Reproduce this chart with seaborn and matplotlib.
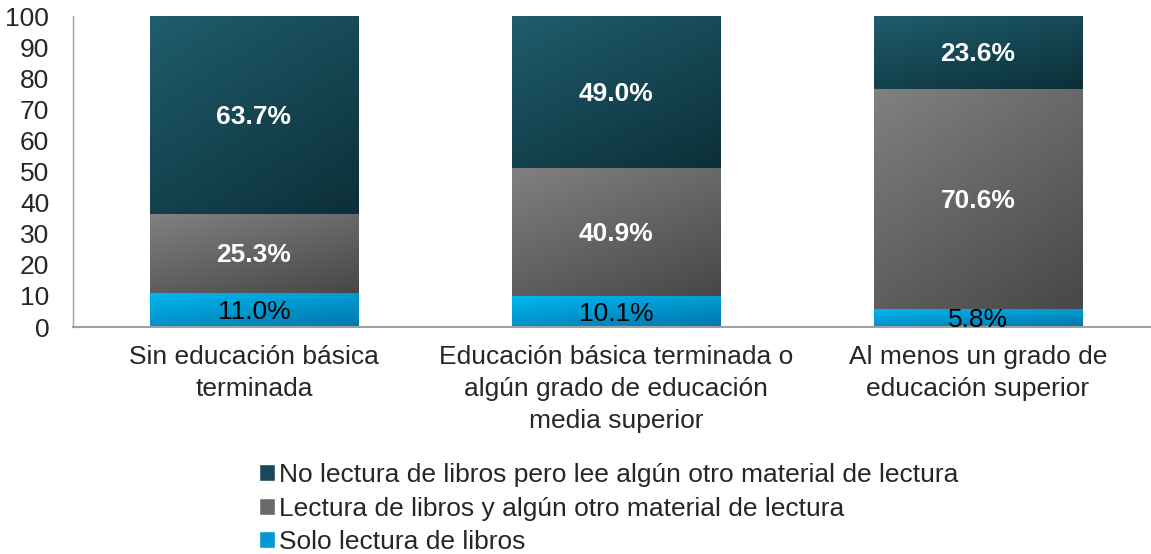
import numpy as np
import pandas as pd
import matplotlib
matplotlib.use("Agg")
import matplotlib.pyplot as plt
from matplotlib.colors import LinearSegmentedColormap
from matplotlib.patches import Patch
import seaborn as sns

categories = ["Sin educación básica\nterminada",
              "Educación básica terminada o\nalgún grado de educación\nmedia superior",
              "Al menos un grado de\neducación superior"]
solo_libros = [11.0, 10.1, 5.8]
libros_y_otro = [25.3, 40.9, 70.6]
no_libros = [63.7, 49.0, 23.6]
series_names = ["No lectura de libros pero lee algún otro material de lectura",
                "Lectura de libros y algún otro material de lectura",
                "Solo lectura de libros"]
yticks = [0, 10, 20, 30, 40, 50, 60, 70, 80, 90, 100]

sns.set_theme(style="white")
plt.rcParams['font.family'] = ['Liberation Sans', 'DejaVu Sans']

fig = plt.figure(figsize=(11.51, 5.54), dpi=100)
ax = fig.add_axes([0.0634, 0.4097, 1 - 0.0634, 0.5614])

df = pd.DataFrame({"cat": categories,
                   "solo": solo_libros,
                   "ambos": libros_y_otro,
                   "no": no_libros})
df["c1"] = df["solo"]
df["c2"] = df["solo"] + df["ambos"]
df["c3"] = df["c2"] + df["no"]

grads = {
    "no": ("#1f5d6d", "#0c2f38"),
    "ambos": ("#808080", "#474747"),
    "solo": ("#00b8f2", "#0076aa"),
}
solid = {"no": "#17495a", "ambos": "#6a6a6a", "solo": "#0099d4"}

width = 0.575
layers = [("c3", "no", "c2"), ("c2", "ambos", "c1"), ("c1", "solo", None)]
for top_col, key, bot_col in layers:
    n_before = len(ax.patches)
    sns.barplot(data=df, x="cat", y=top_col, color=solid[key], width=width,
                saturation=1, ax=ax, linewidth=0)
    new_patches = ax.patches[n_before:]
    cmap = LinearSegmentedColormap.from_list(key, grads[key])
    for i, p in enumerate(new_patches):
        x0 = p.get_x()
        w = p.get_width()
        y1 = df[top_col].iloc[i]
        y0 = df[bot_col].iloc[i] if bot_col else 0.0
        xs = np.linspace(0, 1, 60)
        ys = np.linspace(0, 1, 60)
        X, Y = np.meshgrid(xs, ys)
        Z = (X * 0.4 + Y * 0.6)
        im = ax.imshow(Z, cmap=cmap, extent=[x0, x0 + w, y0, y1], origin="lower",
                       aspect="auto", vmin=0, vmax=1,
                       zorder=p.get_zorder() + 0.01 + len(ax.images) * 1e-4)
        im.set_data(Z[::-1])
        im.set_clip_path(p)

# labels
for i in range(len(categories)):
    c1 = df["c1"].iloc[i]; c2 = df["c2"].iloc[i]; c3 = df["c3"].iloc[i]
    ax.text(i, c1 / 2 - 0.8, f"{solo_libros[i]:.1f}%", ha="center", va="center",
            fontsize=19, color="black", zorder=10)
    ax.text(i, (c1 + c2) / 2 - 0.5, f"{libros_y_otro[i]:.1f}%", ha="center", va="center",
            fontsize=19, color="white", fontweight="bold", zorder=10)
    ax.text(i, (c2 + c3) / 2 - 0.5, f"{no_libros[i]:.1f}%", ha="center", va="center",
            fontsize=19, color="white", fontweight="bold", zorder=10)

ax.set_xlim(-0.5, 2.478)
ax.set_ylim(0, 100)
ax.set_yticks(yticks)
ax.set_yticklabels([str(t) for t in yticks], fontsize=19)
ax.tick_params(axis="y", length=0, pad=17)
ax.tick_params(axis="x", length=0, pad=13, labelsize=19)
for lbl in ax.get_xticklabels():
    lbl.set_linespacing(1.42)
ax.set_xlabel("")
ax.set_ylabel("")
for s in ["top", "right"]:
    ax.spines[s].set_visible(False)
ax.spines["left"].set_color("#a0a0a0")
ax.spines["bottom"].set_color("#a0a0a0")
ax.spines["left"].set_linewidth(1.0)
ax.spines["bottom"].set_linewidth(1.5)

handles = [Patch(facecolor=solid["no"]), Patch(facecolor=solid["ambos"]), Patch(facecolor=solid["solo"])]
fig.legend(handles, series_names, loc="upper center", bbox_to_anchor=(0.529, 0.188),
           frameon=False, fontsize=19, handlelength=0.6, handleheight=0.6,
           handletextpad=0.15, labelspacing=0.36, borderpad=0, alignment="left")

fig.savefig("out.png", dpi=100)
